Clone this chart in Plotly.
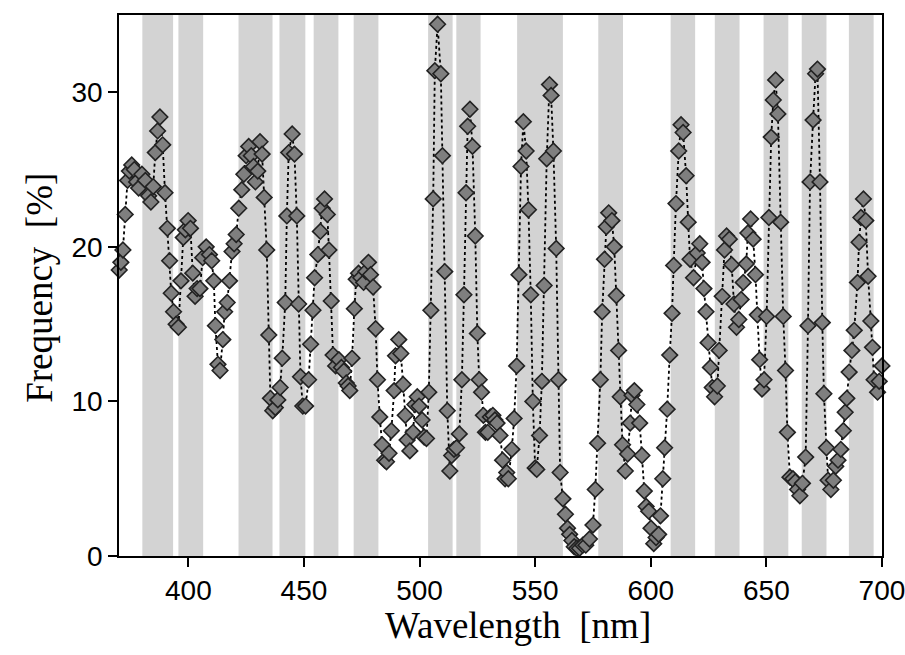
import plotly.graph_objects as go

# Measured spectrum (wavelength in nm, frequency in %)
wavelength = [
    370.1, 370.8, 371.7, 372.7, 373.7, 374.5, 375.5, 376.6, 377.6, 378.5,
    379.9, 381.4, 382.8, 383.8, 384.8, 385.7, 386.7, 387.7, 388.9, 389.9,
    390.9, 391.9, 392.6, 393.6, 394.7, 395.7, 396.8, 397.8, 398.7, 399.9,
    400.9, 401.9, 402.9, 403.8, 405.0, 406.2, 407.7, 409.1, 410.1, 411.0,
    411.7, 412.8, 413.7, 414.9, 415.7, 416.8, 417.8, 418.9, 419.8, 420.7,
    421.8, 423.1, 424.0, 425.0, 426.1, 427.2, 428.2, 429.0, 430.0, 431.0,
    431.9, 432.8, 433.9, 434.8, 435.5, 436.5, 437.6, 438.7, 439.7, 440.6,
    441.9, 442.6, 443.4, 444.9, 445.9, 446.9, 447.7, 448.5, 449.5, 450.7,
    452.0, 452.9, 453.9, 454.6, 456.0, 457.1, 457.9, 458.9, 460.1, 460.8,
    461.8, 462.6, 463.7, 465.1, 466.2, 467.2, 468.3, 469.1, 469.8, 470.8,
    471.8, 472.6, 473.6, 474.6, 475.8, 476.8, 477.9, 478.8, 479.9, 481.0,
    481.8, 482.8, 483.8, 484.9, 485.7, 486.8, 487.8, 489.0, 489.6, 491.0,
    491.9, 492.9, 493.8, 494.6, 495.8, 497.2, 498.0, 499.0, 499.8, 501.1,
    502.0, 503.0, 504.0, 504.9, 505.9, 506.6, 507.8, 509.2, 509.9, 510.9,
    512.0, 513.1, 513.9, 514.9, 516.0, 517.2, 518.3, 519.2, 520.1, 520.8,
    521.8, 522.9, 524.1, 525.0, 525.8, 526.8, 527.6, 528.5, 529.5, 530.6,
    531.7, 532.6, 533.5, 534.8, 535.9, 537.0, 537.7, 538.4, 539.9, 540.9,
    542.0, 543.0, 543.9, 544.9, 546.1, 547.1, 548.1, 549.0, 550.0, 550.7,
    551.9, 552.9, 553.9, 555.0, 556.2, 556.9, 557.9, 559.1, 560.1, 560.8,
    562.0, 563.1, 564.0, 564.9, 565.9, 566.9, 568.0, 569.2, 570.6, 571.9,
    573.5, 575.0, 576.0, 577.0, 578.2, 579.0, 580.0, 580.8, 581.8, 583.2,
    584.2, 585.1, 586.1, 586.8, 587.8, 589.0, 590.0, 591.1, 591.9, 592.9,
    594.0, 595.2, 596.2, 597.2, 598.0, 599.1, 600.1, 601.3, 602.3, 603.4,
    604.2, 605.2, 606.0, 607.1, 608.2, 609.2, 609.9, 610.9, 612.1, 613.1,
    614.0, 615.3, 616.2, 617.0, 618.5, 620.1, 621.2, 622.2, 623.0, 623.9,
    624.8, 625.8, 626.6, 627.6, 628.8, 629.6, 630.9, 631.9, 632.8, 634.0,
    635.0, 636.0, 637.1, 638.1, 639.1, 640.0, 641.3, 642.0, 643.2, 644.3,
    645.3, 646.1, 647.1, 648.1, 649.0, 650.1, 651.1, 652.1, 653.0, 654.0,
    655.0, 656.2, 657.3, 658.3, 659.1, 660.2, 661.5, 662.5, 663.5, 664.5,
    665.6, 667.0, 668.0, 668.9, 670.2, 671.3, 672.1, 673.2, 674.2, 674.9,
    676.0, 676.7, 677.9, 679.0, 680.0, 681.0, 682.2, 683.3, 684.1, 684.8,
    685.8, 687.0, 688.0, 689.4, 690.1, 690.9, 692.0, 693.0, 694.0, 695.2,
    695.9, 696.6, 698.1, 698.8, 700.0,
]
frequency = [
    18.5, 19.0, 19.8, 22.1, 24.3, 24.9, 25.3, 25.0, 24.2, 23.8,
    24.7, 24.3, 23.3, 22.9, 23.9, 26.1, 27.5, 28.4, 26.6, 23.5,
    21.2, 19.1, 17.0, 15.8, 15.0, 14.8, 17.8, 20.6, 21.1, 21.7,
    21.2, 18.3, 16.8, 17.3, 17.3, 19.3, 20.0, 19.5, 19.1, 17.8,
    14.9, 12.4, 12.0, 14.0, 15.8, 16.4, 17.8, 19.7, 20.2, 20.8,
    22.5, 23.7, 24.7, 25.9, 26.5, 25.9, 25.2, 24.2, 24.9, 26.8,
    26.0, 23.2, 19.8, 14.3, 10.2, 9.4, 9.6, 10.1, 10.9, 12.8,
    16.4, 22.0, 26.1, 27.3, 26.0, 22.0, 16.3, 11.6, 9.7, 9.7,
    11.4, 13.7, 15.9, 18.0, 19.5, 21.0, 22.5, 23.1, 22.1, 19.8,
    16.5, 13.0, 12.3, 12.7, 12.2, 11.95, 11.2, 11.0, 10.7, 12.8,
    16.0, 17.9, 18.3, 18.0, 17.7, 18.4, 19.0, 18.2, 17.4, 14.7,
    11.4, 9.0, 7.2, 6.2, 6.1, 6.65, 8.1, 10.7, 12.95, 14.0,
    13.1, 11.1, 9.1, 7.5, 6.8, 8.0, 9.8, 10.3, 9.7, 8.8,
    7.7, 7.6, 10.6, 15.9, 23.1, 31.4, 34.4, 31.2, 25.9, 18.4,
    9.4, 5.5, 6.5, 6.9, 7.0, 7.9, 11.4, 16.9, 23.5, 27.8,
    28.9, 26.5, 20.7, 14.4, 11.4, 10.6, 9.1, 8.0, 8.0, 9.0,
    9.1, 8.8, 8.6, 7.8, 6.2, 5.0, 5.4, 5.0, 6.9, 8.9,
    12.3, 18.2, 25.2, 28.1, 26.2, 22.4, 16.9, 10.0, 5.7, 5.6,
    7.8, 11.3, 17.5, 25.7, 30.5, 29.8, 26.2, 19.9, 11.4, 5.4,
    3.7, 2.7, 1.8, 1.4, 1.0, 0.6, 0.5, 0.5, 0.7, 0.7,
    1.1, 2.0, 4.3, 7.3, 11.4, 15.8, 19.2, 21.3, 22.2, 21.7,
    20.0, 16.85, 13.3, 10.3, 7.2, 5.5, 6.6, 8.6, 10.4, 10.7,
    9.8, 8.6, 6.5, 4.2, 3.2, 2.9, 1.8, 0.8, 1.2, 1.4,
    2.6, 5.0, 7.0, 9.5, 13.0, 15.7, 18.8, 22.8, 26.2, 27.9,
    27.4, 24.6, 21.6, 19.2, 18.0, 19.6, 20.2, 19.0, 17.3, 15.8,
    13.8, 12.2, 10.9, 10.3, 11.0, 13.3, 16.8, 19.8, 20.7, 20.5,
    18.85, 16.3, 14.8, 15.3, 16.6, 17.7, 18.9, 20.9, 21.8, 20.5,
    18.2, 15.6, 12.7, 10.8, 11.4, 15.5, 21.9, 27.1, 29.5, 30.8,
    28.6, 21.6, 15.5, 12.0, 8.0, 5.1, 5.0, 4.8, 4.3, 3.9,
    4.7, 6.4, 14.9, 24.2, 28.2, 31.2, 31.5, 24.2, 15.1, 10.5,
    7.0, 4.9, 4.3, 4.9, 5.8, 6.2, 6.9, 8.1, 9.3, 10.2,
    11.9, 13.3, 14.6, 17.7, 20.3, 21.9, 23.1, 21.7, 18.1, 15.2,
    13.5, 11.4, 10.6, 11.3, 12.3,
]

# Shaded wavelength bands (nm)
band_start = [380.1, 395.7, 421.7, 439.4, 454.2, 471.5, 503.7, 515.9, 542.2,
              577.3, 608.6, 627.7, 648.8, 665.3, 685.7]
band_end = [393.4, 406.4, 436.4, 450.6, 464.9, 482.2, 514.3, 526.4, 562.0,
            588.0, 619.2, 638.4, 659.5, 676.0, 696.4]

x_ticks = [400, 450, 500, 550, 600, 650, 700]
y_ticks = [0, 10, 20, 30]

fig = go.Figure()

for x0, x1 in zip(band_start, band_end):
    fig.add_shape(type="rect", xref="x", yref="paper", x0=x0, x1=x1, y0=0, y1=1,
                  fillcolor="#d3d3d3", line=dict(width=0), layer="below")

fig.add_trace(go.Scatter(
    x=wavelength, y=frequency, mode="lines+markers",
    line=dict(color="#000000", width=1.8, dash="dot"),
    marker=dict(symbol="diamond", size=12, color="#7f7f7f",
                line=dict(color="#222222", width=1.6)),
    cliponaxis=False, showlegend=False, hoverinfo="skip",
))

tick_font = dict(family="Liberation Sans, Arial, sans-serif", size=28, color="black")
title_font = dict(family="Liberation Serif, Times New Roman, serif", size=37, color="black")

fig.update_layout(
    width=905, height=655,
    margin=dict(l=119, r=23, t=15, b=99, autoexpand=False),
    paper_bgcolor="white", plot_bgcolor="white",
    font=tick_font,
    xaxis=dict(range=[370, 700.02], tickvals=x_ticks, ticks="outside", ticklen=9,
               tickwidth=1.5, tickcolor="black", showline=True, linecolor="black",
               linewidth=1.5, mirror=True, showgrid=False, zeroline=False,
               tickfont=tick_font, ticklabeloverflow="allow", automargin=False),
    yaxis=dict(range=[0, 35], tickvals=y_ticks, ticks="outside", ticklen=9,
               tickwidth=1.5, tickcolor="black", showline=True, linecolor="black",
               linewidth=1.5, mirror=True, showgrid=False, zeroline=False,
               tickfont=tick_font, ticklabeloverflow="allow", automargin=False),
    annotations=[
        dict(text="Wavelength\u00a0 [nm]", xref="paper", yref="paper",
             x=0.523, y=-0.128, xanchor="center", yanchor="middle", showarrow=False,
             font=title_font),
        dict(text="Frequency\u00a0 [%]", xref="paper", yref="paper",
             x=-0.104, y=0.495, xanchor="center", yanchor="middle", showarrow=False,
             textangle=-90, font=title_font),
    ],
)

# Remove the browser's default body margin so the figure fills the window exactly
fig.write_html("out.html",
               config={"displayModeBar": False},
               post_script="document.body.style.margin='0';document.body.style.overflow='hidden';")
